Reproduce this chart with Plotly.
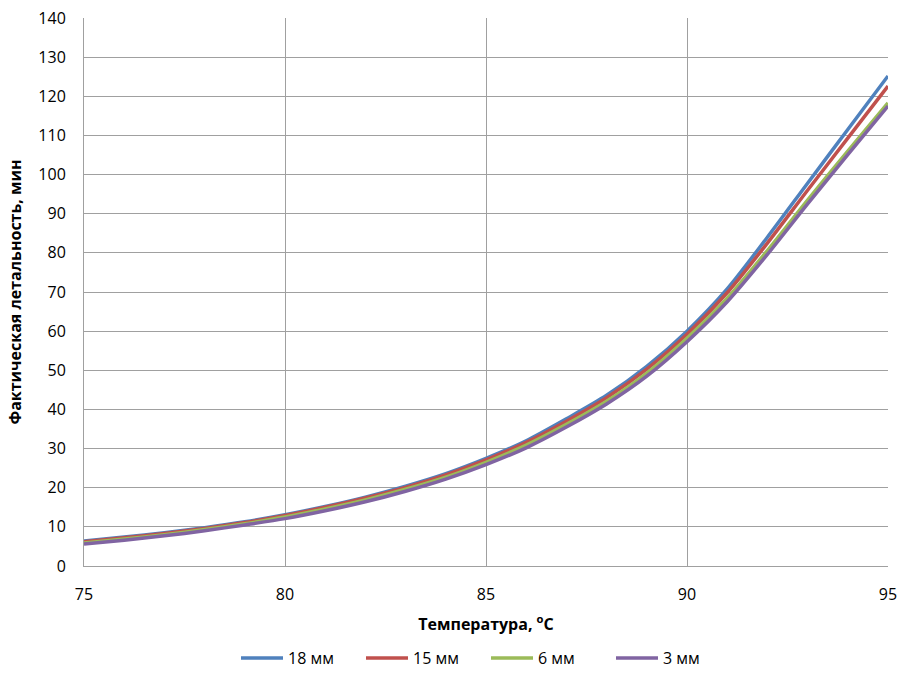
import plotly.graph_objects as go

temps = list(range(75, 96))
s18 = [6.4, 7.4, 8.5, 9.8, 11.3, 13.1, 15.2, 17.6, 20.4, 23.6, 27.5, 32.0, 37.6, 43.6, 51.0, 60.0, 70.8, 84.0, 97.8, 111.5, 125.2]
s15 = [6.2, 7.2, 8.3, 9.6, 11.1, 12.9, 15.0, 17.4, 20.1, 23.3, 27.1, 31.6, 37.0, 43.0, 50.3, 59.2, 69.8, 82.5, 96.0, 109.3, 122.6]
s6 = [5.9, 6.9, 8.0, 9.3, 10.8, 12.5, 14.6, 16.9, 19.6, 22.7, 26.5, 30.9, 36.2, 42.1, 49.3, 58.2, 68.4, 80.6, 93.5, 106.0, 118.3]
s3 = [5.6, 6.6, 7.7, 9.0, 10.5, 12.1, 14.1, 16.4, 19.1, 22.2, 25.9, 30.2, 35.5, 41.4, 48.5, 57.3, 67.5, 79.6, 92.5, 105.1, 117.5]

names = ["18 мм", "15 мм", "6 мм", "3 мм"]
series = [s18, s15, s6, s3]
colors = ["#4F81BD", "#C0504D", "#9BBB59", "#8064A2"]

fig = go.Figure()
for n, s, c in zip(names, series, colors):
    fig.add_trace(go.Scatter(x=temps, y=s, name=n, mode="lines",
                             line=dict(color=c, width=3.5, shape="spline", smoothing=0.8)))

font_family = "Open Sans, Noto Sans, sans-serif"
fig.update_layout(
    width=901, height=675,
    margin=dict(l=84, r=13, t=18, b=109),
    paper_bgcolor="white", plot_bgcolor="white",
    font=dict(family=font_family, size=16, color="#000000"),
    showlegend=True,
    legend=dict(orientation="h", x=0.5, xanchor="center",
                yref="container", y=0.0, yanchor="bottom",
                entrywidth=68, entrywidthmode="pixels",
                font=dict(size=16), itemwidth=42, traceorder="normal"),
)
fig.update_xaxes(
    range=[75, 95], tickvals=[75, 80, 85, 90, 95], automargin=False,
    ticklabeloverflow="allow",
    showgrid=True, gridcolor="#A0A0A0", gridwidth=1,
    showline=True, linecolor="#A0A0A0", linewidth=1, mirror=False,
    zeroline=False, ticks="outside", ticklen=14, tickcolor="rgba(0,0,0,0)",
    title=dict(text="<b>Температура, <sup>o</sup>C</b>", font=dict(size=16), standoff=14),
)
fig.update_yaxes(
    range=[0, 140], tickvals=list(range(0, 141, 10)), automargin=False,
    ticklabeloverflow="allow",
    showgrid=True, gridcolor="#A0A0A0", gridwidth=1,
    showline=True, linecolor="#A0A0A0", linewidth=1,
    zeroline=False, ticks="outside", ticklen=14, tickcolor="rgba(0,0,0,0)",
    title=dict(text="<b>Фактическая летальность, мин</b>", font=dict(size=16), standoff=12),
)
fig.write_html("out.html", config={"displayModeBar": False},
               post_script="document.body.style.margin='0px';document.body.style.overflow='hidden';")
